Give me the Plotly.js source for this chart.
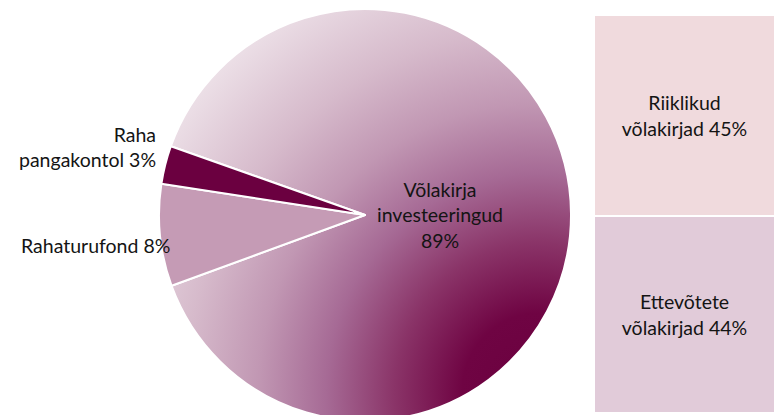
<!DOCTYPE html>
<html>
<head>
<meta charset="utf-8">
<script src="https://cdn.plot.ly/plotly-3.0.1.min.js"></script>
<style>
  html, body { margin: 0; padding: 0; overflow: hidden; background: #ffffff; }
  #chart { width: 775px; height: 421px; }
</style>
</head>
<body>
<div id="chart"></div>
<script>
// ---- data ----
const pieLabels = ['Võlakirja<br>investeeringud', 'Rahaturufond', 'Raha<br>pangakontol'];
const pieValues = [89, 8, 3];
const bondLabels = ['Ettevõtete<br>võlakirjad', 'Riiklikud<br>võlakirjad'];
const bondValues = [44, 45];

// ---- styles ----
const FONT = 'Lato, "Open Sans", sans-serif';
const FS = 19.5;
const TXT = '#141414';
const pieColors = ['#a86b91', '#c59bb5', '#6b0040'];
const bondColors = ['#e1cbd9', '#f0dadd'];
const labelSep = ['<br>', ' ', ' '];
const labelPos = [
  {x: 440, y: 215, xanchor: 'center', align: 'center'},
  {x: 19,  y: 245, xanchor: 'left',   align: 'left'},
  {x: 158, y: 147, xanchor: 'right',  align: 'right'}
];

const W = 775, H = 421, MT = 9;
const px2x = p => p / W;
const px2y = p => (H - p) / (H - MT);

const traces = [{
  type: 'pie',
  labels: pieLabels,
  values: pieValues,
  sort: false,
  direction: 'clockwise',
  rotation: -70.5,
  textinfo: 'none',
  hoverinfo: 'skip',
  marker: {colors: pieColors, line: {color: '#ffffff', width: 2}},
  domain: {x: [0.2, 0.742], y: [0, 1]},
  showlegend: false
}];

bondLabels.forEach((lab, i) => {
  const parts = lab.split('<br>');
  traces.push({
    type: 'bar',
    x: [0.5],
    y: [bondValues[i]],
    width: [1],
    text: [parts[0] + '<br>' + parts[1] + ' ' + bondValues[i] + '%'],
    textposition: 'inside',
    insidetextanchor: 'middle',
    textangle: 0,
    textfont: {family: FONT, size: FS, color: TXT},
    marker: {color: bondColors[i], line: {color: '#ffffff', width: 2}},
    hoverinfo: 'skip',
    xaxis: 'x2',
    yaxis: 'y2',
    showlegend: false
  });
});

const annotations = pieLabels.map((lab, i) => ({
  xref: 'paper', yref: 'paper',
  x: px2x(labelPos[i].x), y: px2y(labelPos[i].y),
  xanchor: labelPos[i].xanchor, yanchor: 'middle',
  align: labelPos[i].align,
  text: lab + labelSep[i] + pieValues[i] + '%',
  showarrow: false,
  font: {family: FONT, size: FS, color: TXT}
}));

const layout = {
  width: W, height: H,
  margin: {l: 0, r: 0, t: MT, b: 0, pad: 0},
  paper_bgcolor: '#ffffff',
  plot_bgcolor: 'rgba(0,0,0,0)',
  barmode: 'stack',
  bargap: 0,
  xaxis2: {domain: [594 / W, 1], range: [0, 1], visible: false, fixedrange: true},
  yaxis2: {domain: [px2y(413), px2y(15)], range: [0, 89], visible: false, fixedrange: true, anchor: 'x2'},
  annotations: annotations,
  font: {family: FONT, color: TXT}
};

Plotly.newPlot('chart', traces, layout, {staticPlot: true, displayModeBar: false}).then(() => {
  const NS = 'http://www.w3.org/2000/svg';
  const svg = document.querySelector('#chart .main-svg');
  let defs = svg.querySelector('defs');
  if (!defs) { defs = document.createElementNS(NS, 'defs'); svg.insertBefore(defs, svg.firstChild); }
  const g = document.createElementNS(NS, 'radialGradient');
  g.setAttribute('id', 'bigSliceGrad');
  g.setAttribute('cx', '0.92');
  g.setAttribute('cy', '0.93');
  g.setAttribute('r', '1.13');
  const stops = [
    [0, '#6b003f'], [0.17, '#6f0443'], [0.32, '#8a3468'], [0.47, '#a66a95'],
    [0.62, '#c197b3'], [0.78, '#d6bacb'], [1, '#ede1e8']
  ];
  stops.forEach(([o, c]) => {
    const s = document.createElementNS(NS, 'stop');
    s.setAttribute('offset', o);
    s.setAttribute('stop-color', c);
    g.appendChild(s);
  });
  defs.appendChild(g);
  const paths = document.querySelectorAll('#chart .pielayer .slice path.surface');
  if (paths.length) paths[0].style.fill = 'url(#bigSliceGrad)';
});
</script>
</body>
</html>
